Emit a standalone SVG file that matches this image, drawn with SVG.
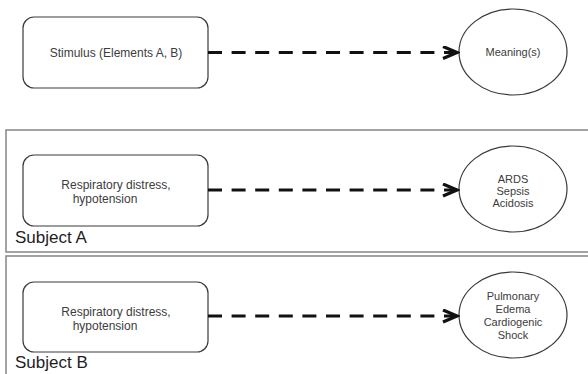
<svg xmlns="http://www.w3.org/2000/svg" width="588" height="374" viewBox="0 0 588 374">
  <style>
    .panel { fill: none; stroke: #858585; stroke-width: 1.5; }
    .box { fill: #fff; stroke: #3a3a3a; stroke-width: 1.2; }
    .oval { fill: #fff; stroke: #3a3a3a; stroke-width: 1.2; }
    .lbl { font-family: "Liberation Sans", Arial, sans-serif; font-size: 12px; fill: #3c3c3c; }
    .olbl { font-family: "Liberation Sans", Arial, sans-serif; font-size: 11px; fill: #3c3c3c; text-anchor: middle; }
    .subj { font-family: "Liberation Sans", Arial, sans-serif; font-size: 17px; fill: #1e1e1e; }
    .link { fill: none; stroke: #111; stroke-width: 3.2; stroke-dasharray: 14 9.6; }
  </style>
  <defs>
    <marker id="chev" markerUnits="userSpaceOnUse" markerWidth="18" markerHeight="18" refX="15" refY="7" orient="auto">
      <path d="M1,1 L15,7 L1,13" fill="none" stroke="#111" stroke-width="3.2" stroke-linejoin="miter"/>
    </marker>
  </defs>
  <rect width="588" height="374" fill="#fff"/>

  <!-- subject panels -->
  <g id="panel-a">
    <rect class="panel" x="6" y="130" width="600" height="122"/>
    <text class="subj" x="15" y="243">Subject A</text>
  </g>
  <g id="panel-b">
    <rect class="panel" x="6" y="256" width="600" height="140"/>
    <text class="subj" x="15" y="368">Subject B</text>
  </g>

  <!-- general model -->
  <g id="stimulus">
    <rect class="box" x="23" y="17" width="185" height="71" rx="11"/>
    <text class="lbl" x="116" y="57" text-anchor="middle">Stimulus (Elements A, B)</text>
  </g>
  <g id="meaning">
    <ellipse class="oval" cx="513" cy="52" rx="54" ry="43"/>
    <text class="olbl" x="513" y="56">Meaning(s)</text>
  </g>

  <!-- subject A -->
  <g id="stimulus-a">
    <rect class="box" x="23" y="155" width="185" height="71" rx="11"/>
    <text class="lbl" x="116" y="189" text-anchor="middle">Respiratory distress,</text>
    <text class="lbl" x="105" y="203" text-anchor="middle">hypotension</text>
  </g>
  <g id="meaning-a">
    <ellipse class="oval" cx="513" cy="189" rx="54" ry="43"/>
    <text class="olbl" x="513" y="183">ARDS</text>
    <text class="olbl" x="513" y="195">Sepsis</text>
    <text class="olbl" x="513" y="207">Acidosis</text>
  </g>

  <!-- subject B -->
  <g id="stimulus-b">
    <rect class="box" x="23" y="282" width="185" height="70" rx="11"/>
    <text class="lbl" x="116" y="316" text-anchor="middle">Respiratory distress,</text>
    <text class="lbl" x="105" y="330" text-anchor="middle">hypotension</text>
  </g>
  <g id="meaning-b">
    <ellipse class="oval" cx="513" cy="315" rx="54" ry="43"/>
    <text class="olbl" x="513" y="300">Pulmonary</text>
    <text class="olbl" x="513" y="313">Edema</text>
    <text class="olbl" x="513" y="326">Cardiogenic</text>
    <text class="olbl" x="513" y="339">Shock</text>
  </g>

  <!-- connectors -->
  <g id="connectors">
    <line class="link" x1="208" y1="52.5" x2="457" y2="52.5" marker-end="url(#chev)"/>
    <line class="link" x1="208" y1="190" x2="457" y2="190" marker-end="url(#chev)"/>
    <line class="link" x1="208" y1="316" x2="457" y2="316" marker-end="url(#chev)"/>
  </g>
</svg>
